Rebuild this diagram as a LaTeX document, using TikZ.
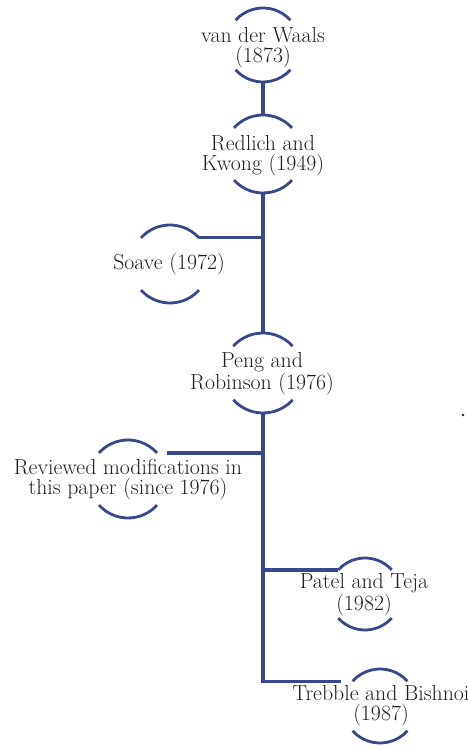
\documentclass[tikz,border=0pt]{standalone}
\usetikzlibrary{calc}
\definecolor{rimblue}{RGB}{56,72,138}
\definecolor{inkgray}{RGB}{30,30,30}
\begin{document}
\begin{tikzpicture}[x=1pt,y=1pt,
  ring/.style={circle, minimum size=2*#1 pt, inner sep=0pt, outer sep=0pt},
  label text/.style={align=center, text=inkgray, inner sep=0pt,
    font=\rmfamily\fontsize{21.8}{20}\selectfont},
  rim/.style={draw=rimblue, line width=2.8pt},
  link/.style={draw=rimblue, line width=3.2pt}]
\useasboundingbox (0,0) rectangle (468,750);

% equation-of-state milestones: an invisible ring carries the arcs
\node[ring=37] (vdw)     at (263,705) {};
\node[ring=39] (rk)      at (263,596) {};
\node[ring=39] (soave)   at (170,486) {};
\node[ring=40] (peng)    at (263,377) {};
\node[ring=39] (rev)     at (128,271) {};
\node[ring=36] (patel)   at (365,156) {};
\node[ring=37] (trebble) at (380,44)  {};

\node[label text] (vdw-t)     at (263,702) {van der Waals\\(1873)};
\node[label text] (rk-t)      at (263,594) {Redlich and\\Kwong (1949)};
\node[label text] (soave-t)   at (169,486) {Soave (1972)};
\node[label text] (peng-t)    at (262,376) {Peng and\\Robinson (1976)};
\node[label text] (rev-t)     at (128,270) {Reviewed modifications in\\this paper (since 1976)};
\node[label text] (patel-t)   at (364,155) {Patel and Teja\\(1982)};
\node[label text] (trebble-t) at (381,44)  {Trebble and Bishnoi\\(1987)};

% upper and lower arcs of each ring
\foreach \n/\r in {vdw/37, rk/39, soave/39, peng/40, rev/39, patel/36, trebble/37}
  \draw[rim] (\n.42) arc[start angle=42, end angle=138, radius=\r pt]
             (\n.222) arc[start angle=222, end angle=318, radius=\r pt];

% trunk and branches
\coordinate (j-soave) at (soave.42 -| rk.south);
\coordinate (j-rev)   at (rev.42 -| peng.south);
\coordinate (j-patel) at (patel.138 -| peng.south);

\draw[link] (vdw.south) -- (rk.north);
\draw[link] (rk.south) -- (peng.north);
\draw[link] (j-soave) -- (soave.42);
\draw[link] (peng.south) |- ([xshift=-12pt]trebble.138);
\draw[link, shorten >=10pt] (j-rev) -- (rev.42);
\draw[link] (j-patel) -- (patel.138);

% small speck at the right
\fill[inkgray] (463,335) circle (1.4pt);
\end{tikzpicture}
\end{document}
